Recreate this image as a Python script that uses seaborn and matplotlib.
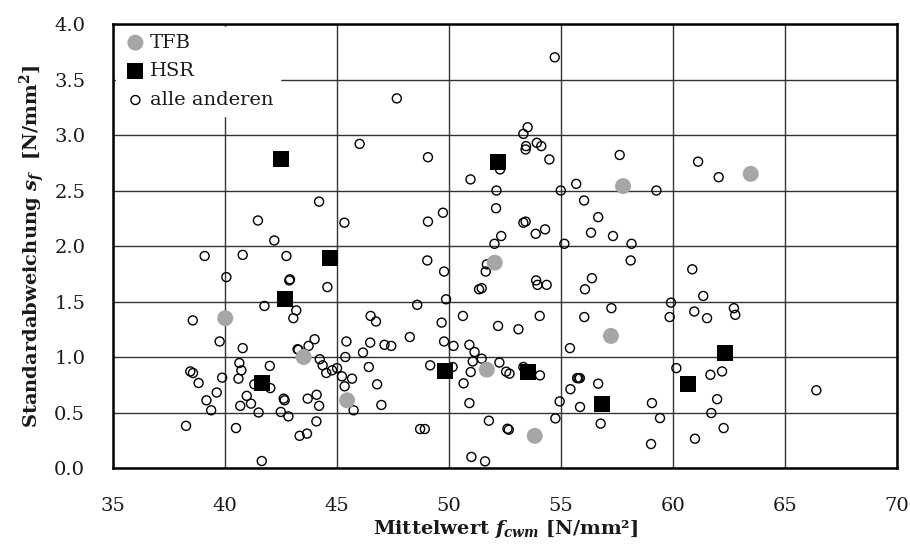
import numpy as np
import pandas as pd
import matplotlib
matplotlib.use("Agg")
import matplotlib.pyplot as plt
import seaborn as sns

# Mean strength f_cwm [N/mm²] and standard deviation s_f [N/mm²] per group
tfb_mean = [40.01, 43.51, 45.45, 52.04, 51.69, 53.83, 57.23, 57.77, 63.47]
tfb_std = [1.35, 1.00, 0.61, 1.85, 0.886, 0.29, 1.19, 2.54, 2.65]

hsr_mean = [42.51, 44.69, 42.68, 41.67, 52.18, 49.80, 53.51, 56.81, 60.67, 62.32]
hsr_std = [2.78, 1.89, 1.52, 0.766, 2.76, 0.874, 0.865, 0.58, 0.76, 1.04]

other_mean = [
    46.01, 44.20, 41.47, 45.33, 42.20, 39.09, 40.79, 42.74, 40.06, 42.90,
    42.87, 44.57, 41.76, 43.18, 43.05, 38.56, 46.50, 39.76, 40.79, 44.00,
    43.73, 43.24, 43.28, 45.42, 46.48, 46.16, 45.37, 46.42, 44.23, 44.36,
    45.00, 44.78, 44.52, 45.22, 45.67, 45.34, 45.74, 38.45, 38.57, 38.82,
    39.87, 40.64, 40.73, 40.60, 42.00, 41.31, 42.02, 39.63, 39.17, 39.38,
    40.97, 40.68, 41.16, 41.50, 42.66, 42.62, 42.49, 42.83, 43.69, 44.09,
    44.20, 44.08, 38.26, 40.49, 43.33, 43.66, 41.64,
    54.72, 47.67, 49.06, 53.51, 53.32, 53.92, 54.12, 53.44, 53.42, 54.48,
    52.28, 50.96, 52.12, 54.99, 55.68, 56.03, 56.66, 56.34, 52.10, 49.73,
    49.06, 53.32, 53.42, 54.29, 53.87, 52.33, 52.03, 55.15, 49.03, 49.78,
    51.69, 51.64, 51.34, 51.46, 53.89, 53.95, 54.36, 56.38, 56.07, 48.58,
    49.87, 46.74, 49.67, 50.62, 52.19, 53.10, 54.05, 56.04, 57.25, 55.40,
    47.12, 47.42, 48.25, 49.78, 50.20, 50.91, 51.14, 51.46, 51.06, 50.97,
    52.25, 52.55, 52.70, 53.32, 54.06, 50.16, 49.16, 46.79, 46.98, 50.65,
    50.91, 51.78, 52.61, 52.67, 48.71, 48.92, 51.00, 51.61, 55.72, 55.78,
    55.84, 56.66, 55.42, 54.94, 55.85, 54.75, 56.77,
    57.62, 59.26, 61.12, 62.04, 57.32, 58.15, 58.11, 60.86, 61.35, 59.91,
    59.85, 60.95, 61.52, 62.72, 62.78, 60.15, 61.67, 62.19, 61.97, 61.71,
    62.26, 60.98, 59.06, 59.42, 59.02, 66.40,
]
other_std = [
    2.92, 2.40, 2.23, 2.21, 2.05, 1.91, 1.92, 1.91, 1.72, 1.70,
    1.69, 1.63, 1.46, 1.42, 1.35, 1.33, 1.37, 1.14, 1.08, 1.16,
    1.10, 1.07, 1.065, 1.14, 1.13, 1.04, 1.00, 0.91, 0.98, 0.925,
    0.90, 0.88, 0.856, 0.826, 0.805, 0.736, 0.52, 0.87, 0.856, 0.766,
    0.814, 0.946, 0.88, 0.805, 0.92, 0.754, 0.72, 0.68, 0.61, 0.52,
    0.65, 0.56, 0.58, 0.50, 0.61, 0.625, 0.505, 0.465, 0.625, 0.66,
    0.56, 0.42, 0.38, 0.36, 0.29, 0.31, 0.063,
    3.70, 3.33, 2.80, 3.07, 3.01, 2.93, 2.90, 2.90, 2.87, 2.78,
    2.69, 2.60, 2.50, 2.50, 2.56, 2.41, 2.26, 2.12, 2.34, 2.30,
    2.22, 2.21, 2.22, 2.15, 2.11, 2.09, 2.02, 2.02, 1.87, 1.77,
    1.835, 1.77, 1.61, 1.62, 1.69, 1.65, 1.65, 1.71, 1.61, 1.47,
    1.52, 1.32, 1.31, 1.37, 1.28, 1.25, 1.37, 1.36, 1.44, 1.08,
    1.11, 1.10, 1.18, 1.14, 1.10, 1.11, 1.045, 0.985, 0.96, 0.865,
    0.95, 0.868, 0.85, 0.91, 0.835, 0.91, 0.925, 0.754, 0.568, 0.763,
    0.585, 0.426, 0.354, 0.345, 0.351, 0.351, 0.10, 0.06, 0.81, 0.81,
    0.81, 0.76, 0.71, 0.60, 0.55, 0.447, 0.40,
    2.82, 2.50, 2.76, 2.62, 2.09, 2.02, 1.87, 1.79, 1.55, 1.49,
    1.36, 1.41, 1.35, 1.44, 1.38, 0.90, 0.84, 0.87, 0.62, 0.495,
    0.36, 0.264, 0.585, 0.45, 0.216, 0.70,
]

x_ticks = [35, 40, 45, 50, 55, 60, 65, 70]
y_ticks = [0.0, 0.5, 1.0, 1.5, 2.0, 2.5, 3.0, 3.5, 4.0]

sns.set_theme(style="white")
plt.rcParams["font.family"] = ["DejaVu Serif"]
plt.rcParams["mathtext.fontset"] = "custom"
plt.rcParams["mathtext.rm"] = "DejaVu Serif:bold"
plt.rcParams["mathtext.it"] = "DejaVu Serif:italic:bold"
plt.rcParams["mathtext.bf"] = "DejaVu Serif:bold"

fig = plt.figure(figsize=(9.10, 5.47), dpi=100)
ax = fig.add_axes([0.1242, 0.1444, 0.8615, 0.8117])

others = pd.DataFrame({"mean": other_mean, "std": other_std})
tfb = pd.DataFrame({"mean": tfb_mean, "std": tfb_std})
hsr = pd.DataFrame({"mean": hsr_mean, "std": hsr_std})

sns.scatterplot(data=tfb, x="mean", y="std", ax=ax, marker="o", s=132,
                color="#a6a6a6", edgecolor="none", linewidth=0, label="TFB", zorder=3)
sns.scatterplot(data=hsr, x="mean", y="std", ax=ax, marker="s", s=132,
                color="black", edgecolor="none", linewidth=0, label="HSR", zorder=4)
sns.scatterplot(data=others, x="mean", y="std", ax=ax, marker="o", s=42,
                facecolors="none", edgecolor="black", linewidth=1.0,
                label="alle anderen", zorder=2)

ax.set_xlim(35, 70)
ax.set_ylim(0, 4)
ax.set_xticks(x_ticks)
ax.set_yticks(y_ticks)
ax.set_xticklabels([str(v) for v in x_ticks])
ax.set_yticklabels([f"{v:.1f}" for v in y_ticks])
ax.tick_params(axis="both", length=0, labelsize=14, colors="#1a1a1a")
ax.tick_params(axis="y", pad=20)
ax.tick_params(axis="x", pad=21)

ax.grid(True, color="#333333", linewidth=1.0)
ax.set_axisbelow(True)
for sp in ax.spines.values():
    sp.set_visible(True)
    sp.set_color("black")
    sp.set_linewidth(1.8)

ax.set_xlabel(r"Mittelwert $f_{cwm}$ [N/mm²]", fontsize=14, fontweight="bold",
              labelpad=2, color="#1a1a1a")
ax.set_ylabel(r"Standardabweichung $s_f$  [N/mm$^2$]", fontsize=14,
              fontweight="bold", labelpad=5, color="#1a1a1a")

leg = ax.legend(loc="upper left", frameon=True, fancybox=False, framealpha=1.0,
                edgecolor="white", facecolor="white", fontsize=14,
                handletextpad=0.1, labelspacing=0.55, borderpad=0.35,
                handlelength=1.3, borderaxespad=0.15)
for t in leg.get_texts():
    t.set_color("#1a1a1a")

fig.savefig("out.png", dpi=100)
